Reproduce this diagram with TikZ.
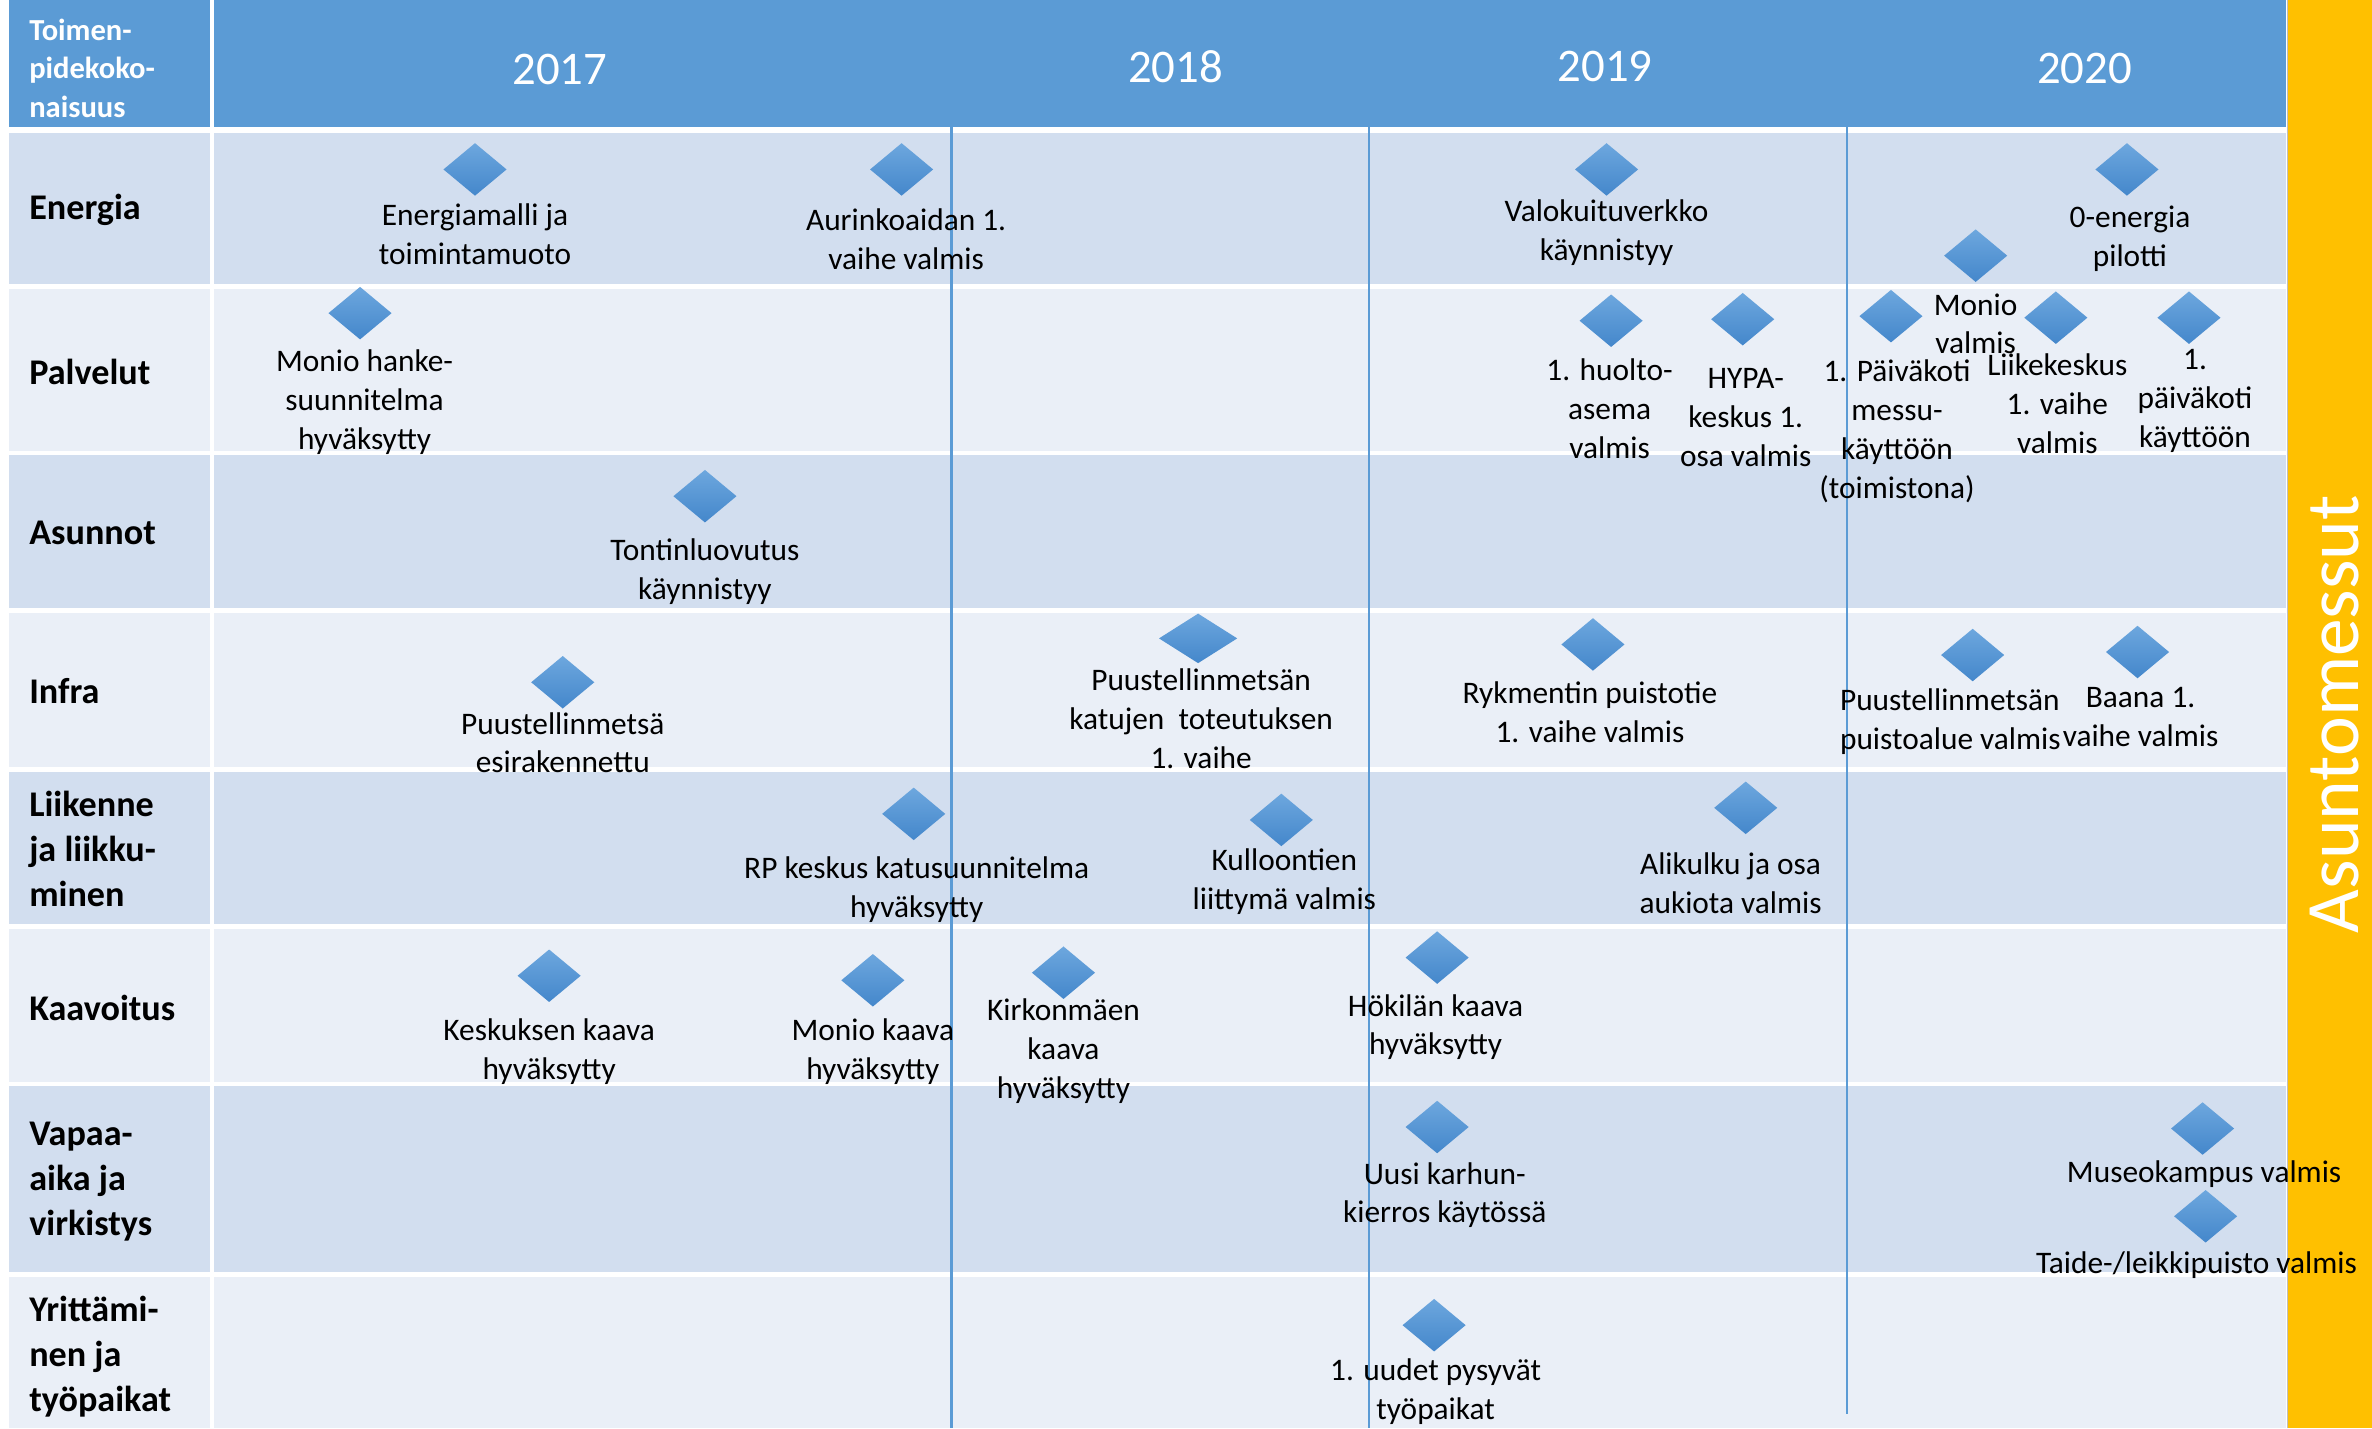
\documentclass[tikz,border=0pt]{standalone}
\usepackage{fontspec}
\setmainfont{Carlito}
\usetikzlibrary{shapes.geometric}
\definecolor{hdrblue}{HTML}{5B9BD5}
\definecolor{rowdark}{HTML}{D2DEEF}
\definecolor{rowlight}{HTML}{EAEFF7}
\definecolor{messu}{HTML}{FFC000}
\definecolor{dtop}{HTML}{6DA7DE}
\definecolor{dbot}{HTML}{4487CB}
\begin{document}
\begin{tikzpicture}[x=0.02cm, y=-0.02cm,
    milestone/.style={diamond, inner sep=0pt, minimum width=0.84cm, minimum height=0.7cm, top color=dtop, bottom color=dbot},
    item/.style={align=center, inner sep=0pt, font=\fontsize{11.8}{14.6}\selectfont},
    rowname/.style={anchor=west, align=left, inner sep=0pt, font=\fontsize{13.6}{17}\selectfont\bfseries},
    year/.style={text=white, inner sep=0pt, font=\fontsize{17.6}{20}\selectfont},
    yearline/.style={draw=hdrblue, line width=0.9pt}
]
\useasboundingbox (0,0) rectangle (1568,944);

% table background
\fill[hdrblue] (6,0) rectangle (1511,84);
\fill[rowdark] (6,88) rectangle (1511,188);
\fill[rowlight] (6,191) rectangle (1511,298);
\fill[rowdark] (6,301) rectangle (1511,402);
\fill[rowlight] (6,405) rectangle (1511,507);
\fill[rowdark] (6,510) rectangle (1511,611);
\fill[rowlight] (6,614) rectangle (1511,715);
\fill[rowdark] (6,718) rectangle (1511,841);
\fill[rowlight] (6,844) rectangle (1511,944);
\draw[white, line width=1.4pt] (140,0) -- (140,944);

% year limits
\draw[yearline] (629,84) -- (629,944);
\draw[yearline] (905,84) -- (905,944);
\draw[yearline] (1221,84) -- (1221,935);

% messut bar
\fill[messu] (1512,0) rectangle (1568,944);
\draw[black!25, line width=0.4pt] (1512,0) -- (1512,944);
\node[rotate=90, text=white, inner sep=0pt, font=\fontsize{28.4}{30}\selectfont] (messut) at (1543,472) {Asuntomessut};

% header
\node[anchor=west, align=left, inner sep=0pt, text=white, font=\fontsize{11.5}{14.5}\selectfont\bfseries] (hdr) at (19,45) {Toimen-\\pidekoko-\\naisuus};
\node[year] (y17) at (370,46) {2017};
\node[year] (y18) at (777,44) {2018};
\node[year] (y19) at (1061,44) {2019};
\node[year] (y20) at (1378,45) {2020};

% rows
\node[rowname] (energia) at (19,139) {Energia};
\node[rowname] (palvelut) at (19,246) {Palvelut};
\node[rowname] (asunnot) at (19,352) {Asunnot};
\node[rowname] (infra) at (19,457) {Infra};
\node[rowname] (liikenne) at (19,561) {Liikenne\\ja liikku-\\minen};
\node[rowname] (kaavoitus) at (19,666) {Kaavoitus};
\node[rowname] (vapaa) at (19,781) {Vapaa-\\aika ja\\virkistys};
\node[rowname] (yritys) at (19,897) {Yrittämi-\\nen ja\\työpaikat};

% Energia
\node[milestone] (m1) at (314,112) {};
\node[item] (t1) at (314,155) {Energiamalli ja\\toimintamuoto};
\node[milestone] (m2) at (596,112) {};
\node[item] (t2) at (599,158) {Aurinkoaidan 1.\\vaihe valmis};
\node[milestone] (m3) at (1062,112) {};
\node[item] (t3) at (1062,154) {Valokuituverkko\\käynnistyy};
\node[milestone] (m4) at (1406,112) {};
\node[item] (t4) at (1408,158) {0-energia\\pilotti};
\node[milestone] (m5) at (1306,169) {};
\node[item] (t5) at (1306,214) {Monio\\valmis};

% Palvelut
\node[milestone] (m6) at (238,207) {};
\node[item] (t6) at (241,266) {Monio hanke-\\suunnitelma\\hyväksytty};
\node[milestone] (m7) at (1065,212) {};
\node[item] (t7) at (1064,270) {1. huolto-\\asema\\valmis};
\node[milestone] (m8) at (1152,211) {};
\node[item] (t8) at (1154,276) {HYPA-\\keskus 1.\\osa valmis};
\node[milestone] (m9) at (1250,209) {};
\node[item] (t9) at (1254,285) {1. Päiväkoti\\messu-\\käyttöön\\(toimistona)};
\node[milestone] (m10) at (1359,210) {};
\node[item] (t10) at (1360,267) {Liikekeskus\\1. vaihe\\valmis};
\node[milestone] (m11) at (1447,210) {};
\node[item] (t11) at (1451,265) {1.\\päiväkoti\\käyttöön};

% Asunnot
\node[milestone] (m12) at (466,328) {};
\node[item] (t12) at (466,378) {Tontinluovutus\\käynnistyy};

% Infra
\node[milestone] (m13) at (372,451) {};
\node[item] (t13) at (372,491) {Puustellinmetsä\\esirakennettu};
\node[milestone, minimum width=1.04cm, minimum height=0.66cm] (m14) at (792,422) {};
\node[item] (t14) at (794,475) {Puustellinmetsän\\katujen\ \ toteutuksen\\1. vaihe};
\node[milestone] (m15) at (1053,426) {};
\node[item] (t15) at (1051,471) {Rykmentin puistotie\\1. vaihe valmis};
\node[milestone] (m16) at (1304,433) {};
\node[item, align=left, anchor=west] (t16) at (1216,477) {Puustellinmetsän\\puistoalue valmis};
\node[milestone] (m17) at (1413,431) {};
\node[item] (t17) at (1415,474) {Baana 1.\\vaihe valmis};

% Liikenne ja liikkuminen
\node[milestone] (m18) at (604,538) {};
\node[item] (t18) at (606,588) {RP keskus katusuunnitelma\\hyväksytty};
\node[milestone] (m19) at (847,542) {};
\node[item] (t19) at (849,583) {Kulloontien\\liittymä valmis};
\node[milestone] (m20) at (1154,534) {};
\node[item] (t20) at (1144,584) {Alikulku ja osa\\aukiota valmis};

% Kaavoitus
\node[milestone] (m21) at (363,645) {};
\node[item] (t21) at (363,695) {Keskuksen kaava\\hyväksytty};
\node[milestone] (m22) at (577,648) {};
\node[item] (t22) at (577,695) {Monio kaava\\hyväksytty};
\node[milestone] (m23) at (703,643) {};
\node[item] (t23) at (703,695) {Kirkonmäen\\kaava\\hyväksytty};
\node[milestone] (m24) at (950,633) {};
\node[item] (t24) at (949,679) {Hökilän kaava\\hyväksytty};

% Vapaa-aika ja virkistys
\node[milestone] (m25) at (950,745) {};
\node[item] (t25) at (955,790) {Uusi karhun-\\kierros käytössä};
\node[milestone] (m26) at (1456,746) {};
\node[item] (t26) at (1457,776) {Museokampus valmis};
\node[milestone] (m27) at (1458,804) {};
\node[item] (t27) at (1452,836) {Taide-/leikkipuisto valmis};

% Yrittäminen ja työpaikat
\node[milestone] (m28) at (948,876) {};
\node[item] (t28) at (949,920) {1. uudet pysyvät\\työpaikat};
\end{tikzpicture}
\end{document}
